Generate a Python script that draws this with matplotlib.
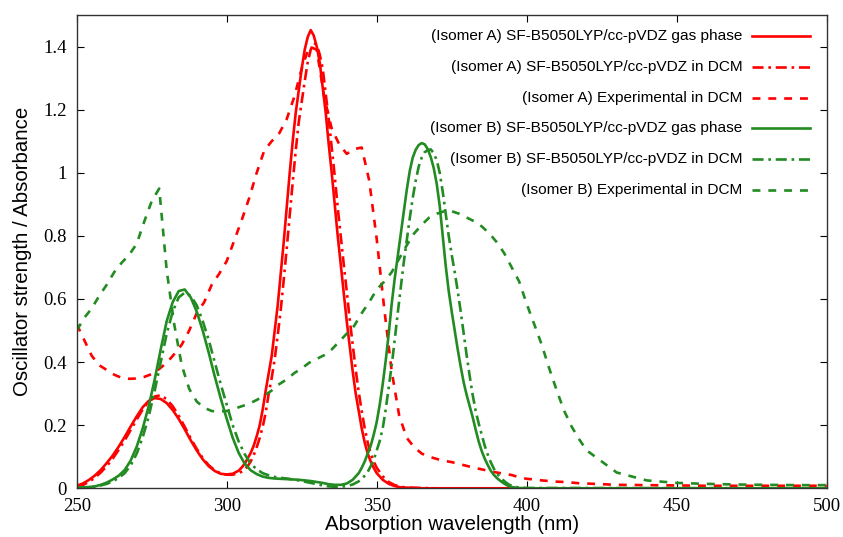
import matplotlib
matplotlib.use("Agg")
import matplotlib.pyplot as plt
from matplotlib.lines import Line2D

# --- Isomer A, computed spectra (SF-B5050LYP/cc-pVDZ) ---
wl_a_calc = [250, 252, 254, 256, 258, 260, 262, 264, 266, 268,
             270, 272, 274, 276, 278, 280, 282, 284, 286, 288,
             290, 292, 294, 296, 298, 300, 302, 304,
             305, 306, 307, 308, 309, 310, 311, 312, 313, 314,
             315, 316, 317, 318, 319, 320, 321, 322, 323, 324,
             325, 326, 327, 328, 329, 330, 331, 332, 333, 334,
             335, 336, 337, 338, 339, 340, 341, 342, 343, 344,
             345, 346, 347, 348, 349, 350,
             352, 354, 356, 358, 360, 365, 370, 400, 500]

a_gas = [0.008, 0.015, 0.026, 0.04, 0.058, 0.08, 0.104, 0.132, 0.163, 0.196,
         0.228, 0.257, 0.277, 0.286, 0.283, 0.27, 0.248, 0.22, 0.187, 0.152,
         0.12, 0.092, 0.07, 0.055, 0.046, 0.044, 0.046, 0.056,
         0.066, 0.078, 0.095, 0.112, 0.135, 0.165, 0.2, 0.25, 0.31, 0.365,
         0.42, 0.5, 0.58, 0.68, 0.78, 0.89, 1.0, 1.1, 1.19, 1.26,
         1.33, 1.39, 1.43, 1.452, 1.435, 1.4, 1.35, 1.27, 1.19, 1.09,
         1.0, 0.9, 0.8, 0.71, 0.62, 0.53, 0.45, 0.37, 0.3, 0.245,
         0.19, 0.145, 0.11, 0.085, 0.065, 0.048,
         0.027, 0.014, 0.007, 0.003, 0.002, 0.0, 0.0, 0.0, 0.0]

a_dcm = [0.005, 0.01, 0.02, 0.033, 0.05, 0.07, 0.094, 0.122, 0.152, 0.185,
         0.218, 0.25, 0.275, 0.291, 0.295, 0.282, 0.26, 0.23, 0.195, 0.158,
         0.125, 0.096, 0.073, 0.057, 0.047, 0.043, 0.043, 0.048,
         0.053, 0.06, 0.07, 0.085, 0.105, 0.13, 0.16, 0.195, 0.24, 0.3,
         0.35, 0.41, 0.485, 0.565, 0.66, 0.76, 0.865, 0.97, 1.07, 1.16,
         1.225, 1.29, 1.35, 1.39, 1.412, 1.405, 1.375, 1.33, 1.25, 1.17,
         1.08, 0.99, 0.89, 0.8, 0.71, 0.625, 0.535, 0.455, 0.375, 0.305,
         0.245, 0.19, 0.145, 0.11, 0.085, 0.065,
         0.038, 0.02, 0.01, 0.005, 0.002, 0.001, 0.0, 0.0, 0.0]

# --- Isomer B, computed spectra (SF-B5050LYP/cc-pVDZ) ---
wl_b_calc = [250, 252, 254, 256, 258, 260, 262, 264, 266, 268,
             270, 272, 274, 276, 278, 280, 282, 284, 286, 288,
             290, 292, 294, 296, 298, 300, 302, 304, 306, 308,
             310, 312, 314, 316, 318, 320, 322, 324, 326, 328,
             330, 332, 334, 336, 338, 340, 342, 344,
             345, 346, 347, 348, 349, 350, 351, 352, 353, 354,
             355, 356, 357, 358, 359, 360, 361, 362, 363, 364,
             365, 366, 367, 368, 369, 370, 371, 372, 373, 374,
             375, 376, 377, 378, 379, 380, 381, 382, 383, 384,
             385, 386, 387, 388, 389, 390, 391, 392, 393, 394,
             395, 397, 400, 500]

b_gas = [0.002, 0.003, 0.004, 0.006, 0.011, 0.018, 0.028, 0.04, 0.058, 0.088,
         0.132, 0.19, 0.26, 0.345, 0.44, 0.53, 0.59, 0.625, 0.63, 0.605,
         0.56, 0.5, 0.43, 0.355, 0.285, 0.22, 0.16, 0.112, 0.078, 0.057,
         0.045, 0.037, 0.033, 0.031, 0.03, 0.029, 0.028, 0.027, 0.025, 0.023,
         0.02, 0.017, 0.013, 0.011, 0.011, 0.015, 0.027, 0.048,
         0.065, 0.085, 0.11, 0.135, 0.17, 0.21, 0.265, 0.33, 0.405, 0.49,
         0.585, 0.665, 0.735, 0.805, 0.875, 0.945, 1.005, 1.048, 1.073, 1.088,
         1.094, 1.09, 1.075, 1.05, 1.015, 0.965, 0.895, 0.8, 0.705, 0.625,
         0.56, 0.5, 0.44, 0.385, 0.335, 0.295, 0.26, 0.225, 0.185, 0.148,
         0.118, 0.094, 0.074, 0.056, 0.043, 0.033, 0.025, 0.018, 0.012, 0.007,
         0.004, 0.001, 0.0, 0.0]

b_dcm = [0.001, 0.002, 0.003, 0.005, 0.009, 0.014, 0.022, 0.033, 0.048, 0.073,
         0.11, 0.162, 0.228, 0.31, 0.4, 0.49, 0.56, 0.605, 0.62, 0.61,
         0.58, 0.53, 0.47, 0.4, 0.33, 0.265, 0.2, 0.148, 0.108, 0.078,
         0.06, 0.048, 0.041, 0.036, 0.033, 0.031, 0.028, 0.025, 0.021, 0.017,
         0.013, 0.009, 0.006, 0.005, 0.005, 0.007, 0.012, 0.022,
         0.03, 0.04, 0.052, 0.07, 0.09, 0.12, 0.15, 0.19, 0.25, 0.32,
         0.39, 0.47, 0.555, 0.635, 0.715, 0.785, 0.855, 0.92, 0.975, 1.02,
         1.048, 1.065, 1.072, 1.074, 1.062, 1.04, 1.0, 0.94, 0.87, 0.8,
         0.74, 0.685, 0.625, 0.56, 0.49, 0.42, 0.355, 0.295, 0.245, 0.205,
         0.17, 0.135, 0.107, 0.083, 0.063, 0.048, 0.036, 0.027, 0.019, 0.012,
         0.008, 0.003, 0.001, 0.0]

# --- experimental absorbance in DCM ---
wl_exp = [250, 252.5, 255, 257.5, 260, 262.5, 265, 267.5, 270, 272.5,
          275, 277.5, 280, 282.5, 285, 287.5, 290, 292.5, 295, 297.5,
          300, 302.5, 305, 307.5, 310, 312.5, 315, 317.5, 320, 322.5,
          325, 327.5, 330, 332.5, 335, 337.5, 340, 342.5, 345, 347.5,
          350, 352.5, 355, 357.5, 360, 362.5, 365, 367.5, 370, 372.5,
          375, 377.5, 380, 382.5, 385, 387.5, 390, 392.5, 395, 397.5,
          400, 402.5, 405, 407.5, 410, 412.5, 415, 417.5, 420,
          430, 440, 450, 460, 470, 480, 490, 500]

a_exp = [0.52, 0.47, 0.42, 0.39, 0.375, 0.36, 0.35, 0.347, 0.348, 0.353,
         0.362, 0.378, 0.398, 0.425, 0.455, 0.5, 0.555, 0.59, 0.645, 0.68,
         0.72, 0.785, 0.85, 0.92, 1.0, 1.07, 1.10, 1.125, 1.17, 1.24,
         1.33, 1.40, 1.39, 1.24, 1.14, 1.09, 1.06, 1.075, 1.08, 0.975,
         0.79, 0.57, 0.37, 0.23, 0.16, 0.13, 0.11, 0.1, 0.093, 0.087,
         0.083, 0.077, 0.071, 0.065, 0.06, 0.055, 0.05, 0.046, 0.042, 0.035,
         0.03, 0.028, 0.025, 0.023, 0.021, 0.02, 0.018, 0.016, 0.015,
         0.011, 0.01, 0.009, 0.008, 0.008, 0.008, 0.008, 0.008]

b_exp = [0.5, 0.54, 0.57, 0.61, 0.645, 0.685, 0.715, 0.74, 0.775, 0.845,
         0.91, 0.95, 0.69, 0.52, 0.39, 0.315, 0.275, 0.255, 0.245, 0.243,
         0.245, 0.252, 0.26, 0.268, 0.28, 0.293, 0.31, 0.33, 0.345, 0.365,
         0.38, 0.398, 0.41, 0.422, 0.44, 0.465, 0.49, 0.515, 0.555, 0.59,
         0.63, 0.655, 0.685, 0.728, 0.77, 0.808, 0.835, 0.858, 0.87, 0.878,
         0.878, 0.87, 0.858, 0.846, 0.83, 0.808, 0.78, 0.745, 0.7, 0.655,
         0.584, 0.52, 0.455, 0.38, 0.31, 0.245, 0.195, 0.155, 0.12,
         0.05, 0.025, 0.017, 0.014, 0.012, 0.011, 0.01, 0.01]

labels = ["(Isomer A) SF-B5050LYP/cc-pVDZ gas phase",
          "(Isomer A) SF-B5050LYP/cc-pVDZ in DCM",
          "(Isomer A) Experimental in DCM",
          "(Isomer B) SF-B5050LYP/cc-pVDZ gas phase",
          "(Isomer B) SF-B5050LYP/cc-pVDZ in DCM",
          "(Isomer B) Experimental in DCM"]

RED = "#ff0000"
GREEN = "#228b22"
LW = 1.9
solid = "-"
dashdot = (0, (4.2, 1.8, 1.0, 1.8))
dashed = (0, (3.0, 3.0))

series = [
    (wl_a_calc, a_gas, RED, solid),
    (wl_a_calc, a_dcm, RED, dashdot),
    (wl_exp, a_exp, RED, dashed),
    (wl_b_calc, b_gas, GREEN, solid),
    (wl_b_calc, b_dcm, GREEN, dashdot),
    (wl_exp, b_exp, GREEN, dashed),
]

plt.rcParams["axes.linewidth"] = 1.0

fig = plt.figure(figsize=(8.43, 5.37), dpi=100)
ax = fig.add_axes([0.0910, 0.0907, 0.8897, 0.8814])

for x, vals, col, ls in series:
    ax.plot(x, vals, color=col, linestyle=ls, lw=LW)

ax.set_xlim(250, 500)
ax.set_ylim(0, 1.5)
ax.set_xticks([250, 300, 350, 400, 450, 500])
ax.set_yticks([0, 0.2, 0.4, 0.6, 0.8, 1.0, 1.2, 1.4])
ax.set_yticklabels(["0", "0.2", "0.4", "0.6", "0.8", "1", "1.2", "1.4"])
ax.tick_params(direction="in", length=5, width=0.8, top=True, right=True,
               labelsize=13.5, pad=7)
for lab in ax.get_xticklabels() + ax.get_yticklabels():
    lab.set_family("Liberation Serif")
for sp in ax.spines.values():
    sp.set_color("#333333")

ax.set_xlabel("Absorption wavelength (nm)", family="Liberation Sans",
              fontsize=14.7, labelpad=0)
ax.set_ylabel("Oscillator strength / Absorbance", family="Liberation Sans",
              fontsize=14.7, labelpad=8)

# key, gnuplot style: right aligned text with the sample on the right
y0 = 0.9556
dy = 0.0651
for i, ((x, vals, col, ls), lab) in enumerate(zip(series, labels)):
    yy = y0 - i * dy
    ax.text(0.888, yy, lab, transform=ax.transAxes, ha="right", va="center",
            family="Liberation Sans", fontsize=11.1)
    ax.add_line(Line2D([0.9004, 0.9777], [yy, yy], transform=ax.transAxes,
                       color=col, linestyle=ls, lw=LW))

fig.savefig("out.png", dpi=100)
